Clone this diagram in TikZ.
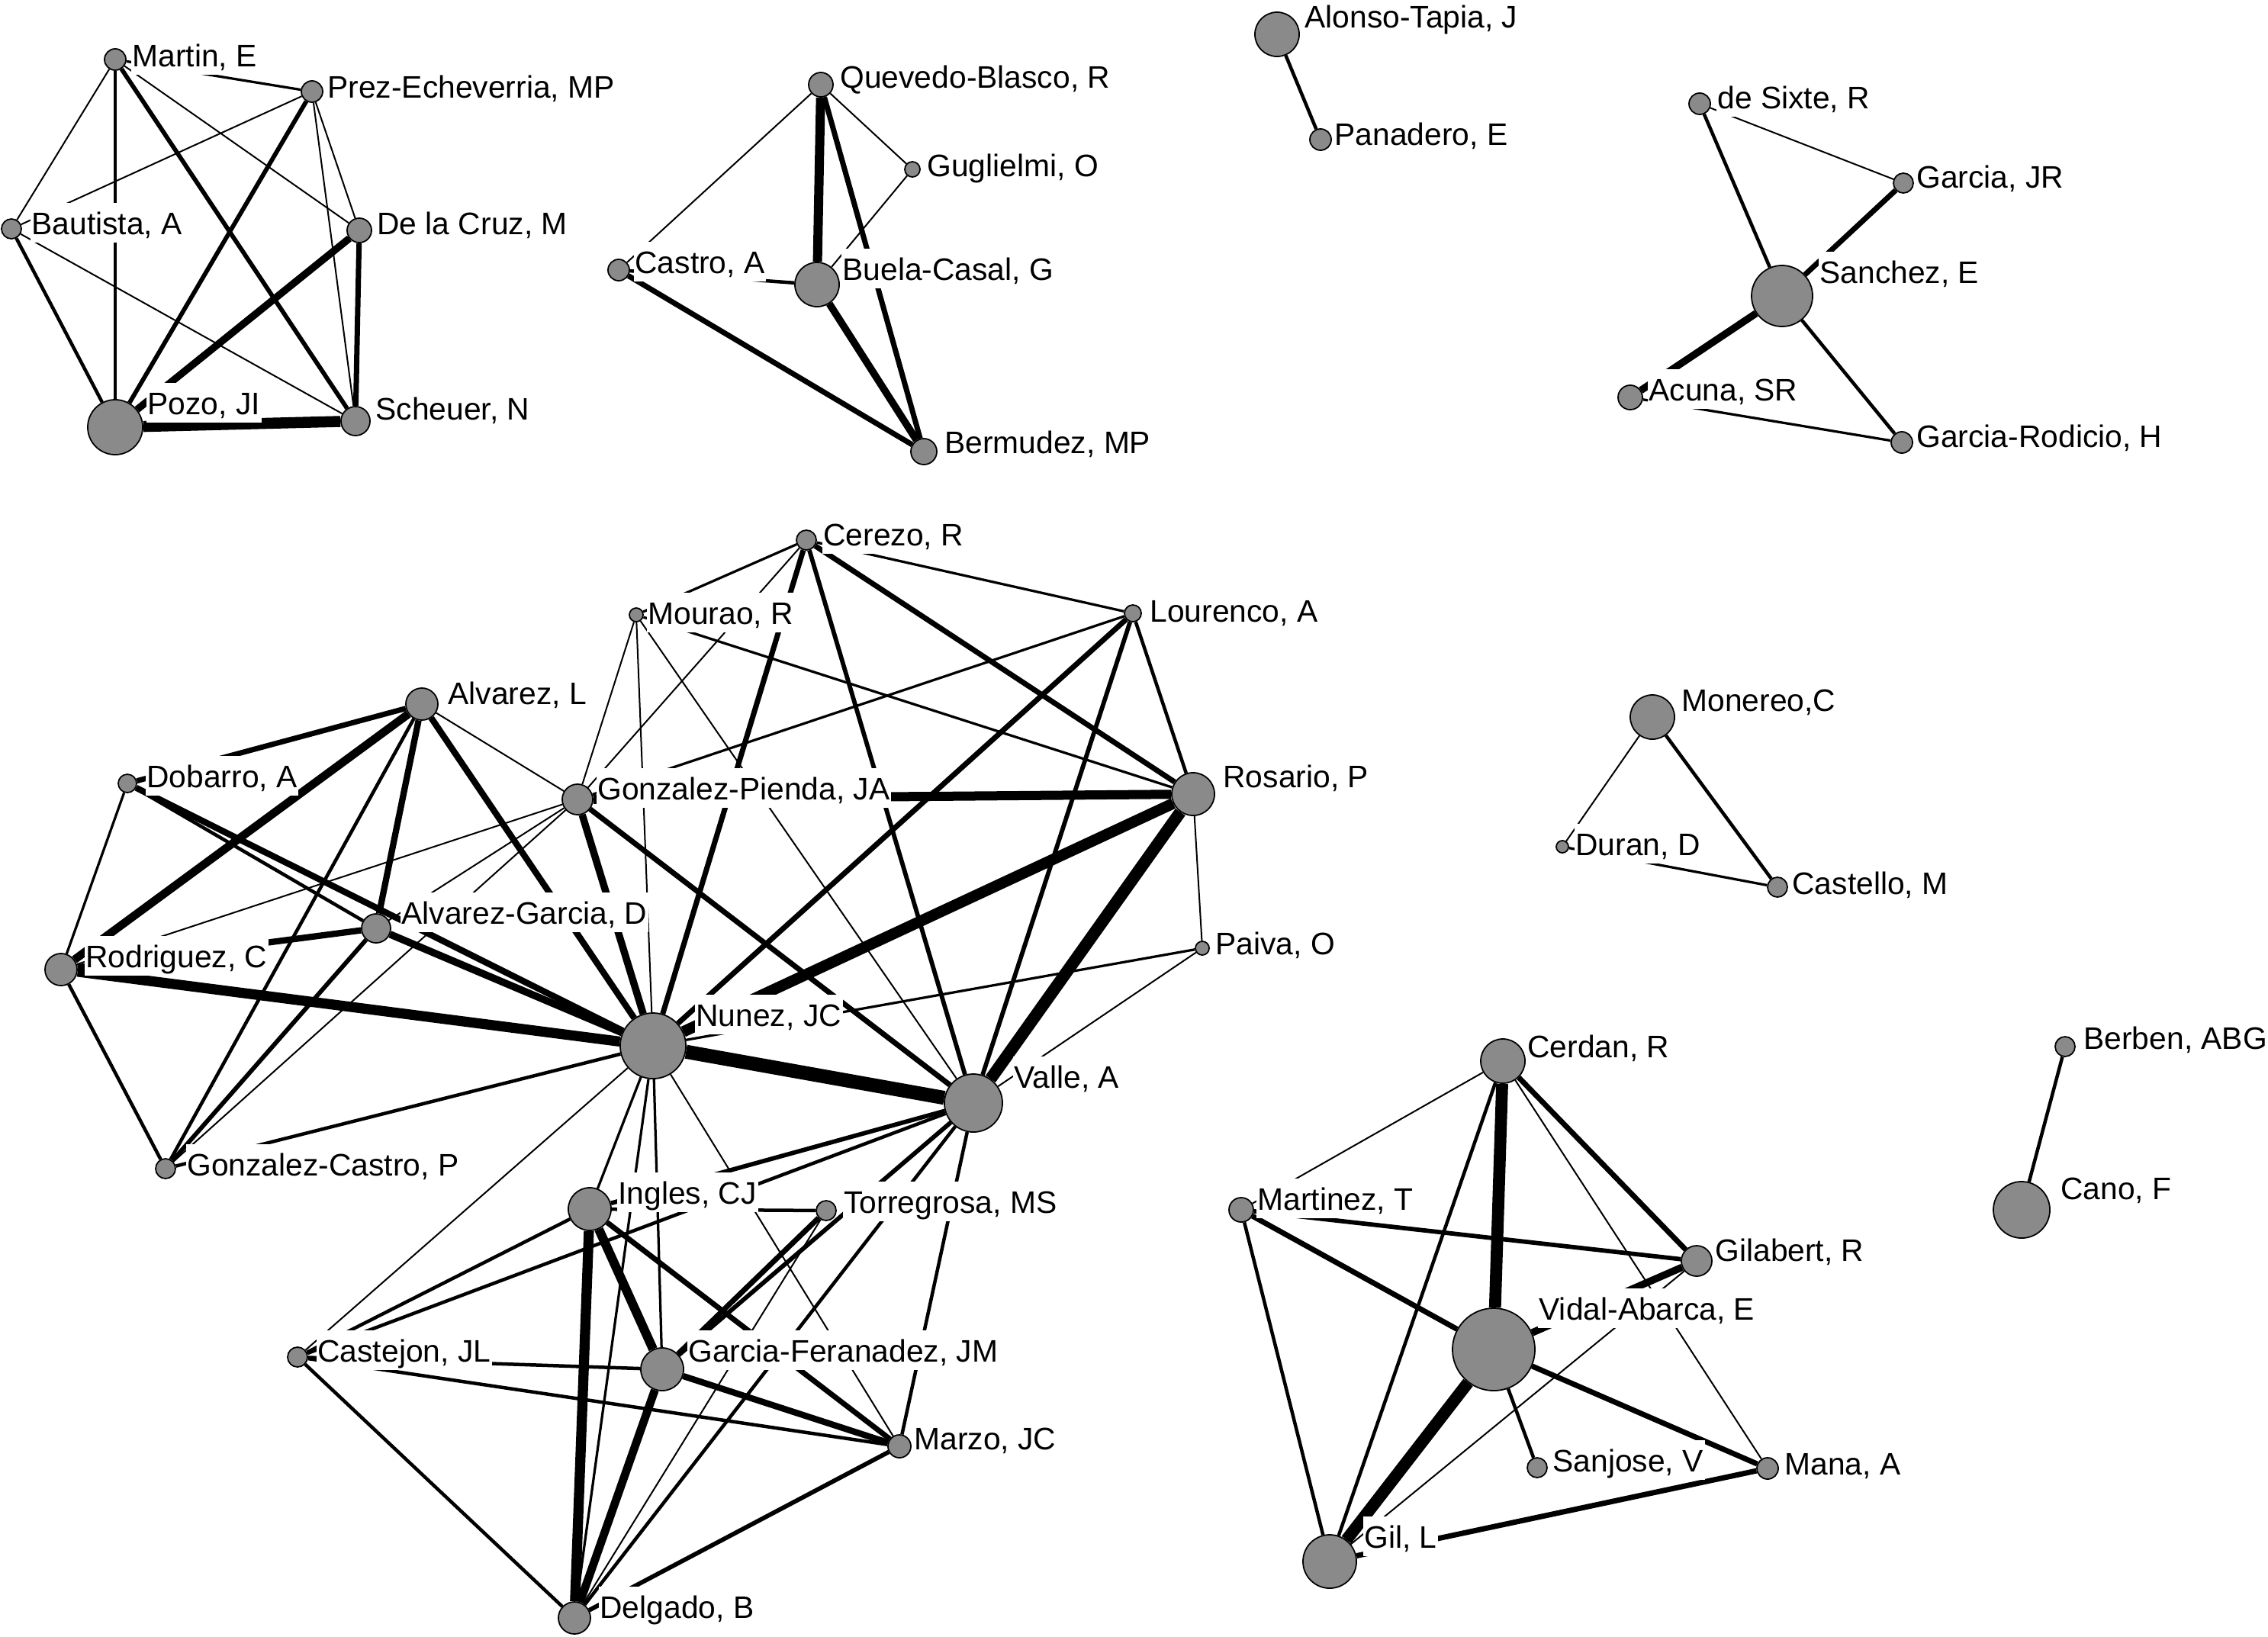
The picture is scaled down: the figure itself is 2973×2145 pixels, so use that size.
\documentclass[tikz,border=0pt]{standalone}
\usepackage{fontspec}
\setmainfont{Liberation Sans}
\definecolor{nodegray}{RGB}{138,138,138}
\pgfdeclarelayer{edges}
\pgfsetlayers{edges,main}
\tikzset{
  pt/.style={circle, fill=nodegray, draw=black, line width=0.5pt, inner sep=0pt, minimum size=#1*0.02cm},
  lab/.style={anchor=base west, fill=white, inner xsep=0.5pt, inner ysep=0.5pt, text height=11.2pt, text depth=2.6pt},
  ew/.style={line width={(#1*1.25-0.5)*0.2845pt}, draw=black}
}
\begin{document}
\begin{tikzpicture}[x=0.01cm, y=-0.01cm, font=\fontsize{11.6}{13.9}\selectfont]
\useasboundingbox (0,0) rectangle (2973,2145);
% ---------- nodes ----------
% cluster 1
\node[pt=14] (martin) at (151,78) {};
\node[pt=14] (prez) at (409,120) {};
\node[pt=13] (bautista) at (15,300) {};
\node[pt=16] (delacruz) at (471,302) {};
\node[pt=36] (pozo) at (151,560) {};
\node[pt=19] (scheuer) at (466,552) {};
% cluster 2
\node[pt=16] (quevedo) at (1076,111) {};
\node[pt=10] (guglielmi) at (1196,222) {};
\node[pt=14] (castro) at (811,354) {};
\node[pt=29] (buela) at (1071,373) {};
\node[pt=17] (bermudez) at (1211,592) {};
% cluster 3
\node[pt=29] (alonso) at (1674,45) {};
\node[pt=14] (panadero) at (1731,183) {};
% cluster 4
\node[pt=14] (desixte) at (2228,136) {};
\node[pt=13] (garciajr) at (2495,240) {};
\node[pt=40] (sanchez) at (2336,388) {};
\node[pt=16] (acuna) at (2137,521) {};
\node[pt=14] (garciarod) at (2493,580) {};
% big cluster
\node[pt=13] (cerezo) at (1057,708) {};
\node[pt=11] (lourenco) at (1485,804) {};
\node[pt=9] (mourao) at (834,806) {};
\node[pt=21] (alvarezl) at (553,923) {};
\node[pt=12] (dobarro) at (167,1027) {};
\node[pt=20] (gpienda) at (757,1048) {};
\node[pt=28] (rosario) at (1564,1041) {};
\node[pt=19] (alvgarcia) at (493,1217) {};
\node[pt=21] (rodriguez) at (80,1271) {};
\node[pt=9] (paiva) at (1576,1243) {};
\node[pt=43] (nunez) at (856,1371) {};
\node[pt=38] (valle) at (1276,1446) {};
\node[pt=13] (gcastro) at (217,1532) {};
\node[pt=28] (ingles) at (773,1585) {};
\node[pt=13] (torregrosa) at (1083,1587) {};
\node[pt=13] (castejon) at (390,1779) {};
\node[pt=28] (gfernandez) at (868,1795) {};
\node[pt=15] (marzo) at (1179,1896) {};
\node[pt=21] (delgado) at (753,2121) {};
% monereo
\node[pt=29] (monereo) at (2166,940) {};
\node[pt=8] (duran) at (2048,1110) {};
\node[pt=13] (castello) at (2330,1163) {};
% berben
\node[pt=13] (berben) at (2707,1372) {};
\node[pt=37] (cano) at (2650,1586) {};
% vidal cluster
\node[pt=29] (cerdan) at (1970,1391) {};
\node[pt=16] (martinez) at (1627,1586) {};
\node[pt=20] (gilabert) at (2224,1653) {};
\node[pt=54] (vidal) at (1958,1769) {};
\node[pt=13] (sanjose) at (2015,1924) {};
\node[pt=14] (mana) at (2317,1925) {};
\node[pt=35] (gil) at (1743,2047) {};
% ---------- edges ----------
\begin{pgfonlayer}{edges}
% cluster 1
\draw[ew=3] (martin) -- (prez);
\draw[ew=2] (martin) -- (bautista);
\draw[ew=4] (martin) -- (pozo);
\draw[ew=5] (martin) -- (scheuer);
\draw[ew=2] (martin) -- (delacruz);
\draw[ew=2] (prez) -- (bautista);
\draw[ew=5] (prez) -- (pozo);
\draw[ew=2] (prez) -- (delacruz);
\draw[ew=2] (prez) -- (scheuer);
\draw[ew=4] (bautista) -- (pozo);
\draw[ew=2] (bautista) -- (scheuer);
\draw[ew=12] (pozo) -- (scheuer);
\draw[ew=8] (pozo) -- (delacruz);
\draw[ew=6] (delacruz) -- (scheuer);
% cluster 2
\draw[ew=10] (quevedo) -- (buela);
\draw[ew=6] (quevedo) -- (bermudez);
\draw[ew=2] (quevedo) -- (guglielmi);
\draw[ew=2] (quevedo) -- (castro);
\draw[ew=2] (guglielmi) -- (buela);
\draw[ew=4] (castro) -- (buela);
\draw[ew=6] (castro) -- (bermudez);
\draw[ew=8] (buela) -- (bermudez);
% cluster 3
\draw[ew=4] (alonso) -- (panadero);
% cluster 4
\draw[ew=4] (desixte) -- (sanchez);
\draw[ew=2] (desixte) -- (garciajr);
\draw[ew=6] (garciajr) -- (sanchez);
\draw[ew=8] (sanchez) -- (acuna);
\draw[ew=4] (sanchez) -- (garciarod);
\draw[ew=3] (acuna) -- (garciarod);
% monereo
\draw[ew=2] (monereo) -- (duran);
\draw[ew=4] (monereo) -- (castello);
\draw[ew=3] (duran) -- (castello);
% berben
\draw[ew=4] (berben) -- (cano);
% vidal cluster
\draw[ew=13] (cerdan) -- (vidal);
\draw[ew=6] (cerdan) -- (gilabert);
\draw[ew=2] (cerdan) -- (martinez);
\draw[ew=4] (cerdan) -- (gil);
\draw[ew=2] (cerdan) -- (mana);
\draw[ew=5] (martinez) -- (gilabert);
\draw[ew=6] (martinez) -- (vidal);
\draw[ew=4] (martinez) -- (gil);
\draw[ew=8] (gilabert) -- (vidal);
\draw[ew=2] (gilabert) -- (gil);
\draw[ew=13] (vidal) -- (gil);
\draw[ew=4] (vidal) -- (sanjose);
\draw[ew=6] (vidal) -- (mana);
\draw[ew=6] (gil) -- (mana);
% big cluster
\draw[ew=3] (cerezo) -- (lourenco);
\draw[ew=3] (cerezo) -- (mourao);
\draw[ew=2] (cerezo) -- (gpienda);
\draw[ew=6] (cerezo) -- (nunez);
\draw[ew=5] (cerezo) -- (valle);
\draw[ew=6] (cerezo) -- (rosario);
\draw[ew=4] (lourenco) -- (rosario);
\draw[ew=5] (lourenco) -- (valle);
\draw[ew=6] (lourenco) -- (nunez);
\draw[ew=3] (lourenco) -- (gpienda);
\draw[ew=3] (mourao) -- (rosario);
\draw[ew=2] (mourao) -- (gpienda);
\draw[ew=2] (mourao) -- (nunez);
\draw[ew=2] (mourao) -- (valle);
\draw[ew=6] (alvarezl) -- (dobarro);
\draw[ew=9] (alvarezl) -- (rodriguez);
\draw[ew=7] (alvarezl) -- (alvgarcia);
\draw[ew=7] (alvarezl) -- (nunez);
\draw[ew=2] (alvarezl) -- (gpienda);
\draw[ew=4] (alvarezl) -- (gcastro);
\draw[ew=2] (gpienda) -- (rodriguez);
\draw[ew=2] (gpienda) -- (alvgarcia);
\draw[ew=2] (gpienda) -- (gcastro);
\draw[ew=8] (gpienda) -- (nunez);
\draw[ew=6] (gpienda) -- (valle);
\draw[ew=10] (gpienda) -- (rosario);
\draw[ew=4] (dobarro) -- (alvgarcia);
\draw[ew=7] (dobarro) -- (nunez);
\draw[ew=3] (dobarro) -- (rodriguez);
\draw[ew=11] (rodriguez) -- (nunez);
\draw[ew=4] (rodriguez) -- (gcastro);
\draw[ew=7] (rodriguez) -- (alvgarcia);
\draw[ew=8] (alvgarcia) -- (nunez);
\draw[ew=5] (alvgarcia) -- (gcastro);
\draw[ew=12] (rosario) -- (nunez);
\draw[ew=13] (rosario) -- (valle);
\draw[ew=2] (rosario) -- (paiva);
\draw[ew=3] (paiva) -- (nunez);
\draw[ew=2] (paiva) -- (valle);
\draw[ew=15] (nunez) -- (valle);
\draw[ew=3] (nunez) -- (ingles);
\draw[ew=3] (nunez) -- (delgado);
\draw[ew=3] (nunez) -- (gfernandez);
\draw[ew=2] (nunez) -- (marzo);
\draw[ew=2] (nunez) -- (castejon);
\draw[ew=4] (nunez) -- (gcastro);
\draw[ew=5] (valle) -- (ingles);
\draw[ew=4] (valle) -- (castejon);
\draw[ew=5] (valle) -- (gfernandez);
\draw[ew=4] (valle) -- (delgado);
\draw[ew=4] (valle) -- (marzo);
\draw[ew=4] (ingles) -- (torregrosa);
\draw[ew=10] (ingles) -- (gfernandez);
\draw[ew=11] (ingles) -- (delgado);
\draw[ew=6] (ingles) -- (marzo);
\draw[ew=4] (ingles) -- (castejon);
\draw[ew=6] (torregrosa) -- (gfernandez);
\draw[ew=2] (torregrosa) -- (delgado);
\draw[ew=7] (gfernandez) -- (marzo);
\draw[ew=9] (gfernandez) -- (delgado);
\draw[ew=4] (gfernandez) -- (castejon);
\draw[ew=4] (castejon) -- (marzo);
\draw[ew=4] (castejon) -- (delgado);
\draw[ew=5] (marzo) -- (delgado);
\end{pgfonlayer}
% ---------- labels ----------
\node[lab] (l-martin) at (171,87) {Martin, E};
\node[lab] (l-prez) at (427,128) {Prez-Echeverria, MP};
\node[lab] (l-bautista) at (39,307) {Bautista, A};
\node[lab] (l-delacruz) at (492,307) {De la Cruz, M};
\node[lab] (l-pozo) at (191,543) {Pozo, JI};
\node[lab] (l-scheuer) at (490,550) {Scheuer, N};
\node[lab] (l-quevedo) at (1099,115) {Quevedo-Blasco, R};
\node[lab] (l-guglielmi) at (1213,231) {Guglielmi, O};
\node[lab] (l-castro) at (830,358) {Castro, A};
\node[lab] (l-buela) at (1102,367) {Buela-Casal, G};
\node[lab] (l-bermudez) at (1236,594) {Bermudez, MP};
\node[lab] (l-alonso) at (1708,36) {Alonso-Tapia, J};
\node[lab] (l-panadero) at (1747,190) {Panadero, E};
\node[lab] (l-desixte) at (2249,142) {de Sixte, R};
\node[lab] (l-garciajr) at (2510,246) {Garcia, JR};
\node[lab] (l-sanchez) at (2383,371) {Sanchez, E};
\node[lab] (l-acuna) at (2159,525) {Acuna, SR};
\node[lab] (l-garciarod) at (2510,586) {Garcia-Rodicio, H};
\node[lab] (l-cerezo) at (1077,715) {Cerezo, R};
\node[lab] (l-mourao) at (847,818) {Mourao, R};
\node[lab] (l-lourenco) at (1505,815) {Lourenco, A};
\node[lab] (l-alvarezl) at (585,923) {Alvarez, L};
\node[lab] (l-dobarro) at (190,1032) {Dobarro, A};
\node[lab] (l-gpienda) at (781,1048) {Gonzalez-Pienda, JA};
\node[lab] (l-rosario) at (1601,1032) {Rosario, P};
\node[lab] (l-alvgarcia) at (524,1211) {Alvarez-Garcia, D};
\node[lab] (l-rodriguez) at (110,1268) {Rodriguez, C};
\node[lab] (l-paiva) at (1591,1251) {Paiva, O};
\node[lab] (l-nunez) at (910,1345) {Nunez, JC};
\node[lab] (l-valle) at (1327,1426) {Valle, A};
\node[lab] (l-gcastro) at (243,1541) {Gonzalez-Castro, P};
\node[lab] (l-ingles) at (808,1578) {Ingles, CJ};
\node[lab] (l-torregrosa) at (1104,1590) {Torregrosa, MS};
\node[lab] (l-castejon) at (414,1785) {Castejon, JL};
\node[lab] (l-gfernandez) at (900,1785) {Garcia-Feranadez, JM};
\node[lab] (l-marzo) at (1196,1900) {Marzo, JC};
\node[lab] (l-delgado) at (784,2121) {Delgado, B};
\node[lab] (l-monereo) at (2202,932) {Monereo,C};
\node[lab] (l-duran) at (2063,1121) {Duran, D};
\node[lab] (l-castello) at (2347,1172) {Castello, M};
\node[lab] (l-berben) at (2729,1375) {Berben, ABG};
\node[lab] (l-cano) at (2699,1572) {Cano, F};
\node[lab] (l-cerdan) at (2000,1386) {Cerdan, R};
\node[lab] (l-martinez) at (1646,1586) {Martinez, T};
\node[lab] (l-gilabert) at (2246,1653) {Gilabert, R};
\node[lab] (l-vidal) at (2015,1730) {Vidal-Abarca, E};
\node[lab] (l-sanjose) at (2033,1929) {Sanjose, V};
\node[lab] (l-mana) at (2337,1933) {Mana, A};
\node[lab] (l-gil) at (1786,2029) {Gil, L};
\end{tikzpicture}
\end{document}
